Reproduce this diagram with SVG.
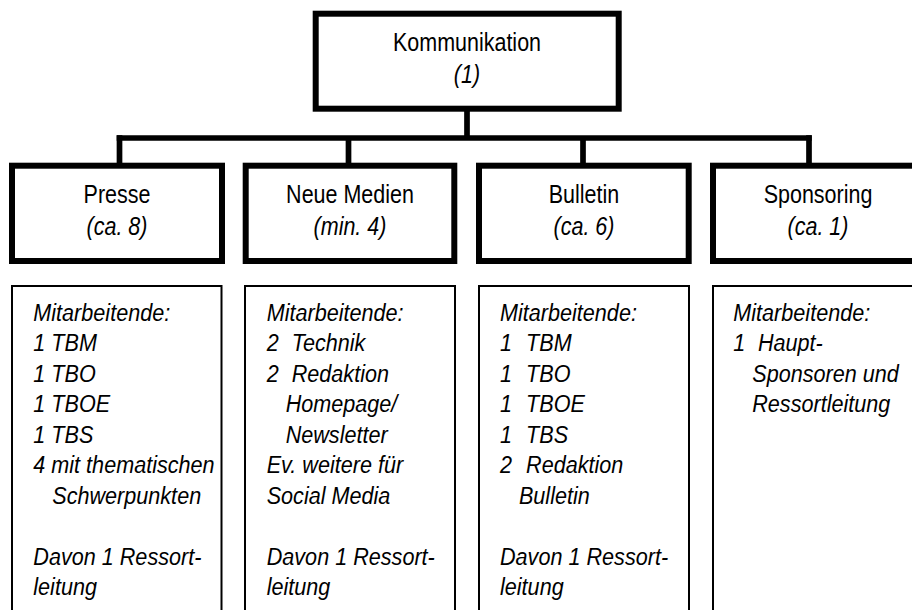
<svg xmlns="http://www.w3.org/2000/svg" width="912" height="610" viewBox="0 0 912 610">
<style>
.lbl { font-family: "Liberation Sans", Arial, sans-serif; font-size: 25px; fill: #000; text-anchor: middle; }
.det { font-family: "Liberation Sans", Arial, sans-serif; font-size: 23.5px; font-style: italic; fill: #000; }
.it { font-style: italic; }
.box { fill: #fff; stroke: #000; stroke-width: 6; }
.sub { fill: #fff; stroke: #000; stroke-width: 2; }
.conn { stroke: #000; stroke-width: 5.7; fill: none; }
</style>
<rect width="912" height="610" fill="#fff"/>
<g id="connectors">
  <path class="conn" d="M467,109 V138"/>
  <path class="conn" d="M116.7,138 H811.7"/>
  <path class="conn" d="M119.5,135.2 V163"/>
  <path class="conn" d="M348.5,138 V163"/>
  <path class="conn" d="M583,138 V163"/>
  <path class="conn" d="M809,135.2 V163"/>
</g>
<g id="kommunikation">
  <rect class="box" x="315.7" y="13.7" width="303" height="95"/>
  <text class="lbl" transform="translate(467,0) scale(0.86,1)"><tspan x="0" y="51">Kommunikation</tspan><tspan class="it" x="0" y="83">(1)</tspan></text>
</g>
<g id="presse">
  <rect class="box" x="12" y="165.7" width="210" height="95.3"/>
  <text class="lbl" transform="translate(117,0) scale(0.86,1)"><tspan x="0" y="203">Presse</tspan><tspan class="it" x="0" y="235">(ca. 8)</tspan></text>
</g>
<g id="neue-medien">
  <rect class="box" x="245.7" y="165.7" width="208.6" height="95.3"/>
  <text class="lbl" transform="translate(350,0) scale(0.86,1)"><tspan x="0" y="203">Neue Medien</tspan><tspan class="it" x="0" y="235">(min. 4)</tspan></text>
</g>
<g id="bulletin">
  <rect class="box" x="479" y="165.7" width="209.7" height="95.3"/>
  <text class="lbl" transform="translate(584,0) scale(0.86,1)"><tspan x="0" y="203">Bulletin</tspan><tspan class="it" x="0" y="235">(ca. 6)</tspan></text>
</g>
<g id="sponsoring">
  <rect class="box" x="713" y="165.7" width="210" height="95.3"/>
  <text class="lbl" transform="translate(818,0) scale(0.86,1)"><tspan x="0" y="203">Sponsoring</tspan><tspan class="it" x="0" y="235">(ca. 1)</tspan></text>
</g>
<g id="presse-details">
  <rect class="sub" x="12" y="286" width="209.5" height="340"/>
  <text class="det" transform="translate(33.3,0) scale(0.92,1)"><tspan x="0" y="321">Mitarbeitende:</tspan><tspan x="0" y="351.5">1 TBM</tspan><tspan x="0" y="382">1 TBO</tspan><tspan x="0" y="412.5">1 TBOE</tspan><tspan x="0" y="443">1 TBS</tspan><tspan x="0" y="473.5">4 mit thematischen</tspan><tspan x="20.6" y="504">Schwerpunkten</tspan><tspan x="0" y="565">Davon 1 Ressort-</tspan><tspan x="0" y="595.5">leitung</tspan></text>
</g>
<g id="neue-medien-details">
  <rect class="sub" x="245" y="286" width="210" height="340"/>
  <text class="det" transform="translate(266.7,0) scale(0.92,1)"><tspan x="0" y="321">Mitarbeitende:</tspan><tspan x="0" y="351.5">2</tspan><tspan x="27.2" y="351.5">Technik</tspan><tspan x="0" y="382">2</tspan><tspan x="27.2" y="382">Redaktion</tspan><tspan x="20.6" y="412.5">Homepage/</tspan><tspan x="20.6" y="443">Newsletter</tspan><tspan x="0" y="473.5">Ev. weitere für</tspan><tspan x="0" y="504">Social Media</tspan><tspan x="0" y="565">Davon 1 Ressort-</tspan><tspan x="0" y="595.5">leitung</tspan></text>
</g>
<g id="bulletin-details">
  <rect class="sub" x="479" y="286" width="210" height="340"/>
  <text class="det" transform="translate(500,0) scale(0.92,1)"><tspan x="0" y="321">Mitarbeitende:</tspan><tspan x="0" y="351.5">1</tspan><tspan x="28.3" y="351.5">TBM</tspan><tspan x="0" y="382">1</tspan><tspan x="28.3" y="382">TBO</tspan><tspan x="0" y="412.5">1</tspan><tspan x="28.3" y="412.5">TBOE</tspan><tspan x="0" y="443">1</tspan><tspan x="28.3" y="443">TBS</tspan><tspan x="0" y="473.5">2</tspan><tspan x="28.3" y="473.5">Redaktion</tspan><tspan x="20.6" y="504">Bulletin</tspan><tspan x="0" y="565">Davon 1 Ressort-</tspan><tspan x="0" y="595.5">leitung</tspan></text>
</g>
<g id="sponsoring-details">
  <rect class="sub" x="713" y="286" width="210" height="340"/>
  <text class="det" transform="translate(733.3,0) scale(0.92,1)"><tspan x="0" y="321">Mitarbeitende:</tspan><tspan x="0" y="351.5">1</tspan><tspan x="26.8" y="351.5">Haupt-</tspan><tspan x="20.6" y="382">Sponsoren und</tspan><tspan x="20.6" y="412.5">Ressortleitung</tspan></text>
</g>
</svg>
